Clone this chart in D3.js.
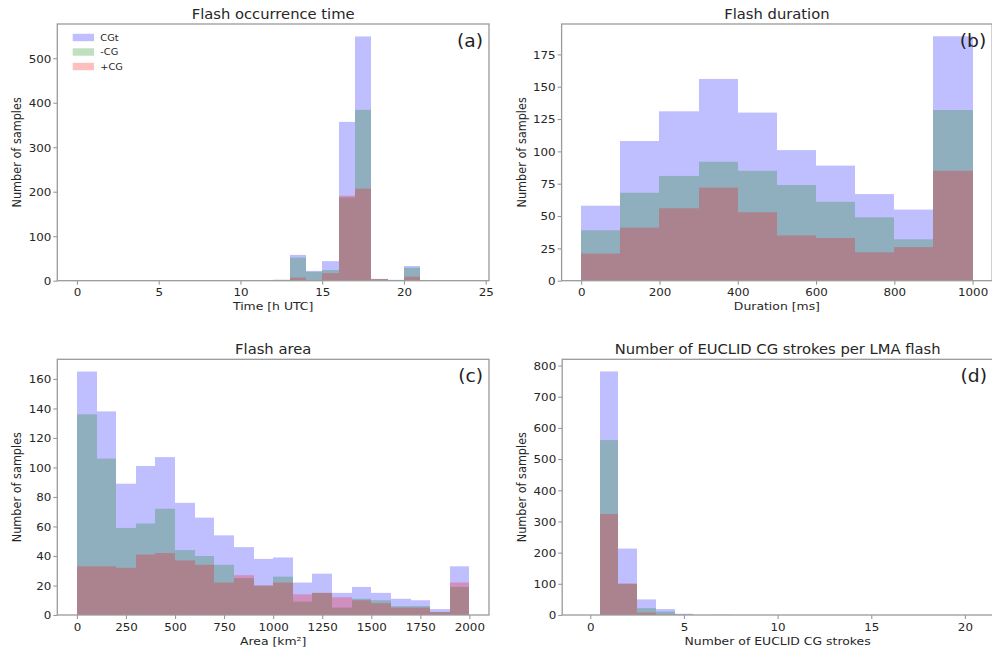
<!DOCTYPE html>
<html><head><meta charset="utf-8">
<script src="https://cdn.jsdelivr.net/npm/d3@7"></script>
<style>html,body{margin:0;padding:0;background:#fff}svg{display:block}</style>
</head><body><div id="chart"></div>
<script>
// ---------------- data ----------------
const seriesNames = ["CGt", "-CG", "+CG"];
const seriesColors = ["#0000ff", "#008000", "#ff0000"];

// (a) Flash occurrence time, 1-hour bins
const timeEdges = [0,1,2,3,4,5,6,7,8,9,10,11,12,13,14,15,16,17,18,19,20,21,22,23,24];
const timeCGt   = [0,0,0,0,0,0,0,0,0,0,0,0,2,58,22,44,357,549,4,2,33,0,0,0];
const timeNeg   = [0,0,0,0,0,0,0,0,0,0,0,0,2,52,20,24,187,384,3,1,29,0,0,0];
const timePos   = [0,0,0,0,0,0,0,0,0,0,0,0,0,7,1,17,191,207,4,0,9,0,0,0];
const timeXTicks = [0,5,10,15,20,25];
const timeYTicks = [0,100,200,300,400,500];

// (b) Flash duration, 100 ms bins
const durEdges = [0,100,200,300,400,500,600,700,800,900,1000];
const durCGt   = [58,108,131,156,130,101,89,67,55,189];
const durNeg   = [39,68,81,92,85,74,61,49,32,132];
const durPos   = [21,41,56,72,53,35,33,22,26,85];
const durXTicks = [0,200,400,600,800,1000];
const durYTicks = [0,25,50,75,100,125,150,175];

// (c) Flash area, 100 km2 bins
const areaEdges = [0,100,200,300,400,500,600,700,800,900,1000,1100,1200,1300,1400,1500,1600,1700,1800,1900,2000];
const areaCGt   = [165,138,89,101,107,76,66,54,46,38,39,22,28,15,19,15,11,10,4,33];
const areaNeg   = [136,106,59,62,72,44,40,34,25,20,26,9,15,5,11,10,6,6,2,19];
const areaPos   = [33,33,32,41,42,37,34,22,27,20,22,14,15,12,10,8,5,5,2,22];
const areaXTicks = [0,250,500,750,1000,1250,1500,1750,2000];
const areaYTicks = [0,20,40,60,80,100,120,140,160];

// (d) Number of EUCLID CG strokes per LMA flash, unit bins
const strokeEdges = [0.5,1.5,2.5,3.5,4.5,5.5,6.5,7.5,8.5,9.5,10.5,11.5,12.5,13.5,14.5,15.5,16.5,17.5,18.5,19.5,20.5];
const strokeCGt   = [781,213,50,19,4,0,0,0,0,0,0,0,0,0,0,0,0,0,0,0];
const strokeNeg   = [561,100,22,11,1,0,1,0,0,0,0,0,0,0,0,0,0,0,0,0];
const strokePos   = [324,101,8,1,0,0,0,0,0,0,0,0,0,0,0,0,0,0,0,0];
const strokeXTicks = [0,5,10,15,20];
const strokeYTicks = [0,100,200,300,400,500,600,700,800];

// ---------------- layout ----------------
const W = 992, H = 651;
const FONT = "DejaVu Sans, sans-serif";
const SX = 1.1;            // horizontal stretch of the original raster
const TEXT = "#262626", SPINE = "#9a9a9a";

const panels = [
  {title:"Flash occurrence time", xlabel:"Time [h UTC]", tag:"(a)", edges:timeEdges,
   series:[timeCGt,timeNeg,timePos], xdom:[-1.2,25.2], ymax:577, xt:timeXTicks, yt:timeYTicks,
   box:[57.3,489,24,280.7], ylx:20.5, legend:true},
  {title:"Flash duration", xlabel:"Duration [ms]", tag:"(b)", edges:durEdges,
   series:[durCGt,durNeg,durPos], xdom:[-50,1050], ymax:198.5, xt:durXTicks, yt:durYTicks,
   box:[561.6,992.2,24,280.7], ylx:526},
  {title:"Flash area", xlabel:"Area [km²]", tag:"(c)", edges:areaEdges,
   series:[areaCGt,areaNeg,areaPos], xdom:[-100,2100], ymax:173.3, xt:areaXTicks, yt:areaYTicks,
   box:[57.3,489,359.3,615], ylx:20.5},
  {title:"Number of EUCLID CG strokes per LMA flash", xlabel:"Number of EUCLID CG strokes", tag:"(d)", edges:strokeEdges,
   series:[strokeCGt,strokeNeg,strokePos], xdom:[-1.5,21.5], ymax:820, xt:strokeXTicks, yt:strokeYTicks,
   box:[562.2,993,359.3,615], ylx:526}
];

const svg = d3.select("#chart").append("svg").attr("width", W).attr("height", H)
  .style("font-family", FONT);
svg.append("rect").attr("width", W).attr("height", H).attr("fill", "#fff");

function stretchText(sel, x, y, str, size, anchor) {
  return sel.append("text")
    .attr("transform", `translate(${x},${y}) scale(${SX},1)`)
    .attr("text-anchor", anchor || "middle")
    .attr("font-size", size)
    .attr("fill", TEXT)
    .text(str);
}

panels.forEach(p => {
  const [L, R, T, B] = p.box;
  const x = d3.scaleLinear().domain(p.xdom).range([L, R]);
  const y = d3.scaleLinear().domain([0, p.ymax]).range([B, T]);
  const g = svg.append("g");

  // bars
  p.series.forEach((vals, si) => {
    g.append("g").selectAll("rect")
      .data(vals.map((v, i) => ({v, x0: p.edges[i], x1: p.edges[i + 1]})).filter(d => d.v > 0))
      .join("rect")
      .attr("x", d => Math.round(x(d.x0)))
      .attr("width", d => Math.round(x(d.x1)) - Math.round(x(d.x0)))
      .attr("y", d => y(d.v))
      .attr("height", d => y(0) - y(d.v))
      .attr("fill", seriesColors[si])
      .attr("fill-opacity", 0.25);
  });

  // axes
  const xa = g.append("g").attr("transform", `translate(0,${B})`)
    .call(d3.axisBottom(x).tickValues(p.xt).tickFormat(d3.format("d")).tickSize(4));
  const ya = g.append("g").attr("transform", `translate(${L},0)`)
    .call(d3.axisLeft(y).tickValues(p.yt).tickFormat(d3.format("d")).tickSize(4));
  [xa, ya].forEach(a => {
    a.select(".domain").remove();
    a.selectAll(".tick line").attr("stroke", SPINE).attr("stroke-width", 1.1);
    a.selectAll(".tick text").attr("fill", TEXT).attr("font-size", 10.8).attr("font-family", FONT);
  });
  xa.selectAll(".tick text").attr("y", null).attr("dy", null)
    .attr("transform", `translate(0,15.5) scale(${SX},1)`);
  ya.selectAll(".tick text").attr("x", null).attr("dy", "0.36em")
    .attr("transform", `translate(-6,0) scale(${SX},1)`);

  // spines
  g.append("rect").attr("x", L).attr("y", T).attr("width", R - L).attr("height", B - T)
    .attr("fill", "none").attr("stroke", SPINE).attr("stroke-width", 1.3);

  // title, labels
  stretchText(g, (L + R) / 2, T - 5.5, p.title, 13.4);
  stretchText(g, (L + R) / 2, B + 29.5, p.xlabel, 11.3);
  g.append("text")
    .attr("transform", `translate(${p.ylx},${(T + B) / 2}) rotate(-90) scale(1,${SX})`)
    .attr("text-anchor", "middle").attr("font-size", 11.3).attr("fill", TEXT)
    .text("Number of samples");
  stretchText(g, Math.min(R, 994) - 6, T + 22.8, p.tag, 17, "end").attr("fill", "#1e1e1e");

  // legend
  if (p.legend) {
    const lg = g.append("g");
    seriesNames.forEach((name, i) => {
      const cy = T + 13.5 + i * 14.5;
      lg.append("rect").attr("x", L + 15.4).attr("y", cy - 3.7).attr("width", 21.3).attr("height", 7.4)
        .attr("fill", seriesColors[i]).attr("fill-opacity", 0.25);
      stretchText(lg, L + 43, cy, name, 8.9, "start").attr("dy", "0.36em");
    });
  }
});
</script>
</body></html>
